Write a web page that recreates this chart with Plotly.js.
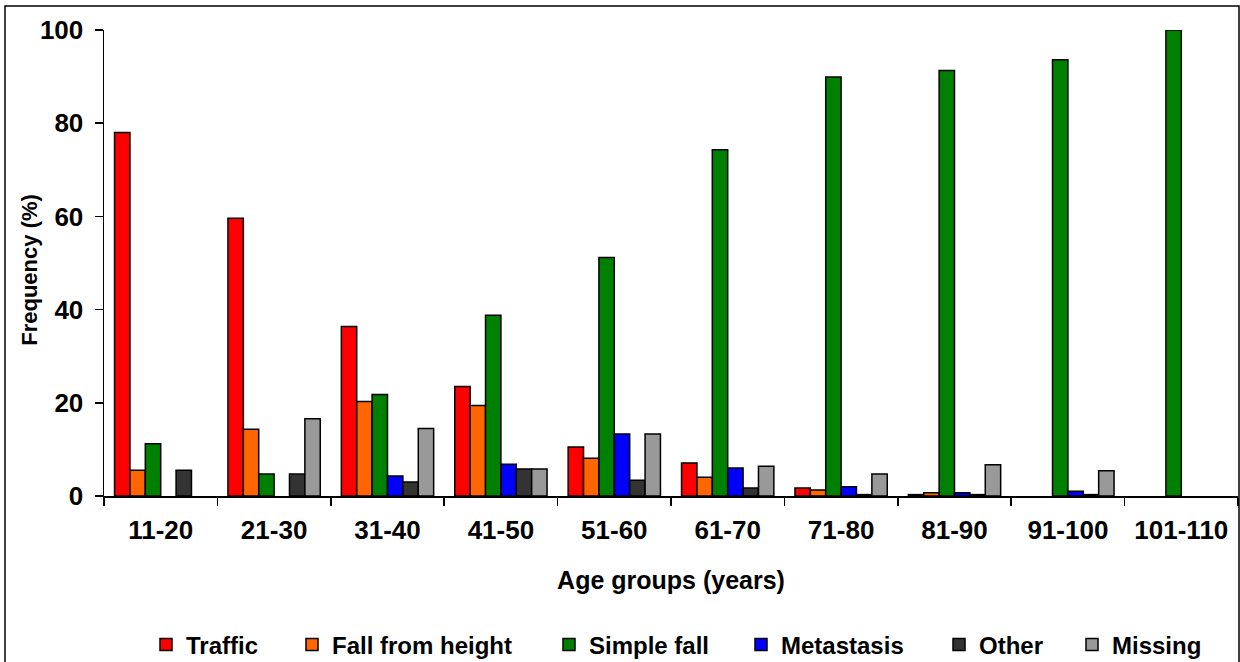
<!DOCTYPE html>
<html>
<head>
<meta charset="utf-8">
<script src="https://cdn.plot.ly/plotly-3.0.1.min.js"></script>
<style>
html,body{margin:0;padding:0;background:#fff;}
#chart{width:1240px;height:662px;}
</style>
</head>
<body>
<div id="chart"></div>
<script>
const categories = ['11-20','21-30','31-40','41-50','51-60','61-70','71-80','81-90','91-100','101-110'];
const seriesNames = ['Traffic','Fall from height','Simple fall','Metastasis','Other','Missing'];
const traffic     = [78.0, 59.6, 36.4, 23.5, 10.5, 7.1, 1.7, 0.3, 0, 0];
const fallHeight  = [5.5, 14.3, 20.3, 19.4, 8.1, 4.0, 1.3, 0.7, 0, 0];
const simpleFall  = [11.2, 4.7, 21.8, 38.8, 51.2, 74.3, 89.9, 91.3, 93.6, 100];
const metastasis  = [0, 0, 4.3, 6.8, 13.3, 6.0, 2.0, 0.7, 1.0, 0];
const other       = [5.5, 4.7, 3.0, 5.8, 3.4, 1.7, 0.3, 0.3, 0.3, 0];
const missing     = [0, 16.6, 14.5, 5.8, 13.3, 6.4, 4.7, 6.7, 5.4, 0];
const yTicks = [0, 20, 40, 60, 80, 100];
const xTitle = 'Age groups (years)';
const yTitle = 'Frequency (%)';

const seriesValues = [traffic, fallHeight, simpleFall, metastasis, other, missing];
const colors = ['#FF0000', '#FF6600', '#008000', '#0000FF', '#333333', '#999999'];

// layout geometry (pixels)
const W = 1240, H = 662;
const L = 104, R = 2, T = 30, B = 165.5;
const pw = W - L - R, ph = H - T - B;
const px = v => (v - L) / pw;
const py = v => (H - B - v) / ph;

const legendCenters = [166, 312, 569, 761, 959, 1092];
const legendKeys = ['legend', 'legend2', 'legend3', 'legend4', 'legend5', 'legend6'];

const font = {family: '"Liberation Sans", Arial, sans-serif', color: '#000', weight: 'bold'};

const data = seriesNames.map((name, i) => ({
  type: 'bar',
  name: name,
  x: categories,
  y: seriesValues[i].map(v => v === 0 ? null : v),
  marker: {color: colors[i], line: {color: '#000', width: 1.5}},
  legend: legendKeys[i],
  showlegend: true,
  hoverinfo: 'x+y+name'
}));

const layout = {
  width: W, height: H,
  margin: {l: L, r: R, t: T, b: B, pad: 0, autoexpand: false},
  paper_bgcolor: '#fff', plot_bgcolor: '#fff',
  font: font,
  showlegend: true,
  barmode: 'group',
  bargap: 0.186,
  bargroupgap: 0,
  xaxis: {
    type: 'category',
    showline: true, linecolor: '#000', linewidth: 1.5,
    ticks: 'outside', ticklen: 8, tickwidth: 1.5, tickcolor: '#000',
    tickson: 'boundaries',
    showgrid: false, zeroline: false,
    tickfont: Object.assign({}, font, {size: 26}),
    ticklabelstandoff: 10,
    title: {text: xTitle, font: Object.assign({}, font, {size: 25}), standoff: 28},
    automargin: false,
    fixedrange: true
  },
  yaxis: {
    range: [0, 100],
    tickvals: yTicks,
    ticktext: yTicks.map(String),
    showline: true, linecolor: '#000', linewidth: 1.5,
    ticks: 'outside', ticklen: 8, tickwidth: 1.5, tickcolor: '#000',
    showgrid: false, zeroline: false,
    tickfont: Object.assign({}, font, {size: 26}),
    ticklabelstandoff: 6,
    automargin: false,
    fixedrange: true
  },
  annotations: [{
    text: yTitle, textangle: -90, showarrow: false,
    xref: 'paper', yref: 'paper', x: px(30), y: py(270),
    xanchor: 'center', yanchor: 'middle',
    font: Object.assign({}, font, {size: 22})
  }],
  shapes: [{
    type: 'rect', xref: 'paper', yref: 'paper',
    x0: px(5), x1: px(1239), y0: py(700), y1: py(6),
    line: {color: '#000', width: 1.5}, fillcolor: 'rgba(0,0,0,0)', layer: 'below'
  }]
};

legendKeys.forEach((k, i) => {
  layout[k] = {
    orientation: 'h',
    xref: 'container', yref: 'container',
    x: (legendCenters[i] - 20) / W, xanchor: 'left',
    y: (H - 645) / H, yanchor: 'middle',
    font: Object.assign({}, font, {size: 24}),
    bgcolor: 'rgba(0,0,0,0)', borderwidth: 0
  };
});

Plotly.newPlot('chart', data, layout, {displayModeBar: false, staticPlot: true});
</script>
</body>
</html>
